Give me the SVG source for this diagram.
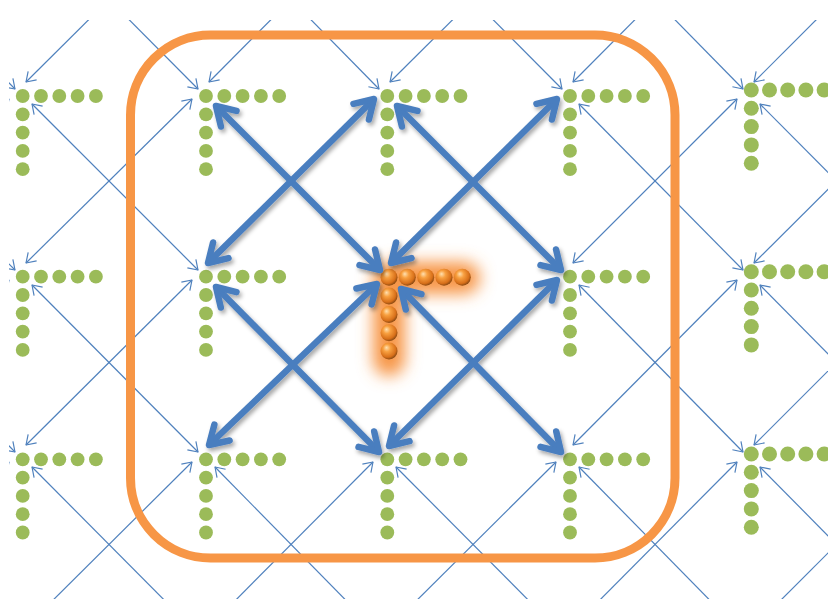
<svg xmlns="http://www.w3.org/2000/svg" xmlns:xlink="http://www.w3.org/1999/xlink" width="828" height="599" viewBox="0 0 828 599">
  <style>
    .thin { stroke: #4F81BD; stroke-width: 1.2; fill: none; marker-start: url(#ah); marker-end: url(#ah); }
    .thick { stroke: #4A7EBF; stroke-width: 6.5; fill: none; marker-start: url(#ahT); marker-end: url(#ahT); }
    .g { fill: #9BBB59; }
    .o { fill: url(#ball); }
  </style>
  <defs>
    <marker id="ah" markerUnits="userSpaceOnUse" orient="auto-start-reverse" overflow="visible" markerWidth="1" markerHeight="1" refX="0" refY="0">
      <path d="M-9,-6 L0,0 L-9,6" fill="none" stroke="#4F81BD" stroke-width="1.2" stroke-linejoin="round"/>
    </marker>
    <marker id="ahT" markerUnits="userSpaceOnUse" orient="auto-start-reverse" overflow="visible" markerWidth="1" markerHeight="1" refX="0" refY="0">
      <path d="M-18,-11 L0,0 L-18,11" fill="none" stroke="#4A7EBF" stroke-width="6.5" stroke-linecap="round" stroke-linejoin="round"/>
    </marker>
    <clipPath id="clip"><rect x="9" y="20" width="819" height="579"/></clipPath>
    <filter id="sh" x="-10%" y="-10%" width="120%" height="120%">
      <feDropShadow dx="2" dy="3" stdDeviation="2" flood-color="#000" flood-opacity="0.35"/>
    </filter>
    <filter id="blur" x="-60%" y="-60%" width="220%" height="220%">
      <feGaussianBlur stdDeviation="8"/>
    </filter>
    <radialGradient id="ball" cx="0.42" cy="0.38" r="0.62" fx="0.35" fy="0.3">
      <stop offset="0" stop-color="#FFE0B0"/>
      <stop offset="0.35" stop-color="#F8A040"/>
      <stop offset="0.8" stop-color="#D8701A"/>
      <stop offset="1" stop-color="#8C4A12"/>
    </radialGradient>
    <g id="tg" class="g">
      <circle cx="0" cy="0" r="6.9"/><circle cx="18.3" cy="0" r="6.9"/><circle cx="36.6" cy="0" r="6.9"/><circle cx="54.9" cy="0" r="6.9"/><circle cx="73.2" cy="0" r="6.9"/>
      <circle cx="0" cy="18.3" r="6.9"/><circle cx="0" cy="36.6" r="6.9"/><circle cx="0" cy="54.9" r="6.9"/><circle cx="0" cy="73.2" r="6.9"/>
    </g>
    <g id="tgb" class="g">
      <circle cx="0" cy="0" r="7.5"/><circle cx="18.2" cy="0" r="7.5"/><circle cx="36.4" cy="0" r="7.5"/><circle cx="54.6" cy="0" r="7.5"/><circle cx="72.8" cy="0" r="7.5"/>
      <circle cx="0" cy="18.3" r="7.5"/><circle cx="0" cy="36.6" r="7.5"/><circle cx="0" cy="54.9" r="7.5"/><circle cx="0" cy="73.2" r="7.5"/>
    </g>
  </defs>

  <rect width="828" height="599" fill="#FFFFFF"/>

  <g id="connectors-thin" clip-path="url(#clip)">
    <line class="thin" x1="-151" y1="-78" x2="15" y2="89"/>
    <line class="thin" x1="32" y1="-78" x2="198" y2="89"/>
    <line class="thin" x1="215" y1="-78" x2="379" y2="89"/>
    <line class="thin" x1="396" y1="-78" x2="562" y2="89"/>
    <line class="thin" x1="579" y1="-78" x2="743" y2="89"/>
    <line class="thin" x1="760" y1="-78" x2="925" y2="89"/>
    <line class="thin" x1="-151" y1="104" x2="15" y2="270"/>
    <line class="thin" x1="32" y1="104" x2="198" y2="270"/>
    <line class="thin" x1="579" y1="104" x2="743" y2="270"/>
    <line class="thin" x1="760" y1="104" x2="925" y2="270"/>
    <line class="thin" x1="-151" y1="285" x2="15" y2="452"/>
    <line class="thin" x1="32" y1="285" x2="198" y2="452"/>
    <line class="thin" x1="579" y1="285" x2="743" y2="452"/>
    <line class="thin" x1="760" y1="285" x2="925" y2="452"/>
    <line class="thin" x1="-151" y1="467" x2="15" y2="634"/>
    <line class="thin" x1="32" y1="467" x2="198" y2="634"/>
    <line class="thin" x1="215" y1="467" x2="379" y2="634"/>
    <line class="thin" x1="396" y1="467" x2="562" y2="634"/>
    <line class="thin" x1="579" y1="467" x2="743" y2="634"/>
    <line class="thin" x1="760" y1="467" x2="925" y2="634"/>

    <line class="thin" x1="9" y1="-83" x2="-157" y2="82"/>
    <line class="thin" x1="192" y1="-83" x2="26" y2="82"/>
    <line class="thin" x1="373" y1="-83" x2="209" y2="82"/>
    <line class="thin" x1="556" y1="-83" x2="390" y2="82"/>
    <line class="thin" x1="737" y1="-83" x2="573" y2="82"/>
    <line class="thin" x1="919" y1="-83" x2="754" y2="82"/>
    <line class="thin" x1="9" y1="99" x2="-157" y2="263"/>
    <line class="thin" x1="192" y1="99" x2="26" y2="263"/>
    <line class="thin" x1="737" y1="99" x2="573" y2="263"/>
    <line class="thin" x1="919" y1="99" x2="754" y2="263"/>
    <line class="thin" x1="9" y1="280" x2="-157" y2="445"/>
    <line class="thin" x1="192" y1="280" x2="26" y2="445"/>
    <line class="thin" x1="737" y1="280" x2="573" y2="445"/>
    <line class="thin" x1="919" y1="280" x2="754" y2="445"/>
    <line class="thin" x1="9" y1="462" x2="-157" y2="627"/>
    <line class="thin" x1="192" y1="462" x2="26" y2="627"/>
    <line class="thin" x1="373" y1="462" x2="209" y2="627"/>
    <line class="thin" x1="556" y1="462" x2="390" y2="627"/>
    <line class="thin" x1="737" y1="462" x2="573" y2="627"/>
    <line class="thin" x1="919" y1="462" x2="754" y2="627"/>
  </g>

  <g id="frame">
    <rect x="130.5" y="35" width="544.5" height="523" rx="80" ry="80" fill="none" stroke="#F79646" stroke-width="9"/>
  </g>

  <g id="t-r0c0"><use xlink:href="#tg" href="#tg" x="22.7" y="96"/></g>
  <g id="t-r0c1"><use xlink:href="#tg" href="#tg" x="206" y="96"/></g>
  <g id="t-r0c2"><use xlink:href="#tg" href="#tg" x="387.3" y="96"/></g>
  <g id="t-r0c3"><use xlink:href="#tg" href="#tg" x="570" y="96"/></g>
  <g id="t-r0c4"><use xlink:href="#tgb" href="#tgb" x="751.3" y="90"/></g>
  <g id="t-r1c0"><use xlink:href="#tg" href="#tg" x="22.7" y="276.7"/></g>
  <g id="t-r1c1"><use xlink:href="#tg" href="#tg" x="206" y="276.7"/></g>
  <g id="t-r1c3"><use xlink:href="#tg" href="#tg" x="570" y="276.7"/></g>
  <g id="t-r1c4"><use xlink:href="#tgb" href="#tgb" x="751.3" y="271.7"/></g>
  <g id="t-r2c0"><use xlink:href="#tg" href="#tg" x="22.7" y="459.3"/></g>
  <g id="t-r2c1"><use xlink:href="#tg" href="#tg" x="206" y="459.3"/></g>
  <g id="t-r2c2"><use xlink:href="#tg" href="#tg" x="387.3" y="459.3"/></g>
  <g id="t-r2c3"><use xlink:href="#tg" href="#tg" x="570" y="459.3"/></g>
  <g id="t-r2c4"><use xlink:href="#tgb" href="#tgb" x="751.3" y="454"/></g>

  <g id="t-center">
    <path d="M464,278 H389 V360" fill="none" stroke="#F79646" stroke-width="32" stroke-linecap="round" stroke-linejoin="round" filter="url(#blur)"/>
    <circle class="o" cx="389" cy="277.3" r="8.5"/>
    <circle class="o" cx="407.3" cy="277.3" r="8.5"/>
    <circle class="o" cx="425.7" cy="277.3" r="8.5"/>
    <circle class="o" cx="444" cy="277.3" r="8.5"/>
    <circle class="o" cx="462.3" cy="277.3" r="8.5"/>
    <circle class="o" cx="389" cy="296" r="8.5"/>
    <circle class="o" cx="389" cy="314.5" r="8.5"/>
    <circle class="o" cx="389" cy="332.8" r="8.5"/>
    <circle class="o" cx="389" cy="351" r="8.5"/>
  </g>

  <g id="connectors-thick" filter="url(#sh)">
    <line class="thick" x1="216" y1="106" x2="380" y2="270"/>
    <line class="thick" x1="557" y1="99" x2="391" y2="263"/>
    <line class="thick" x1="209" y1="445" x2="377" y2="284"/>
    <line class="thick" x1="561" y1="452" x2="401" y2="289"/>
    <line class="thick" x1="374" y1="99" x2="208" y2="263"/>
    <line class="thick" x1="397" y1="106" x2="561" y2="270"/>
    <line class="thick" x1="216" y1="287" x2="379" y2="452"/>
    <line class="thick" x1="557" y1="280" x2="389" y2="446"/>
  </g>
</svg>
